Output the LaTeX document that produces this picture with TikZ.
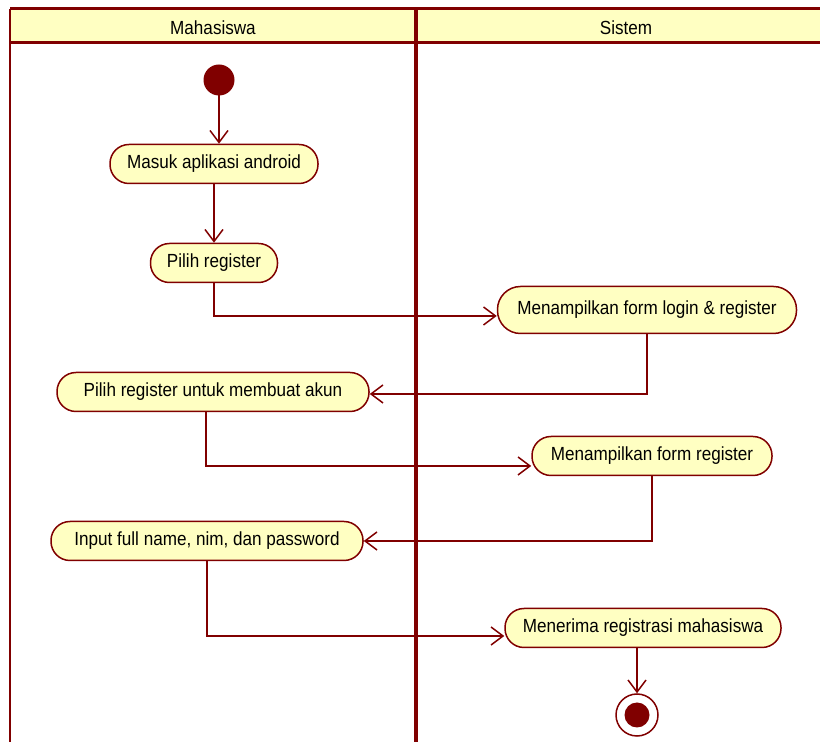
\documentclass[tikz,border=0pt]{standalone}
\usepackage{fontspec}
\setmainfont{Liberation Sans}[FakeStretch=0.9]
\usepackage{tikz}
\usetikzlibrary{arrows.meta,positioning}
\definecolor{umlred}{RGB}{128,0,0}
\definecolor{umlyellow}{RGB}{255,255,194}
\tikzset{
  action/.style={rectangle, rounded corners=9.5pt, draw=umlred, fill=umlyellow, line width=0.75pt,
    minimum height=19.5pt, inner xsep=6pt, font=\fontsize{9.5}{11}\selectfont},
  flow/.style={draw=umlred, line width=0.75pt, -{Straight Barb[length=6pt,width=9pt]}},
  laneline/.style={draw=umlred, line width=2pt},
}

\begin{document}
\begin{tikzpicture}[x=0.5pt,y=-0.5pt]
    \useasboundingbox (0,0) rectangle (820,742);
    \clip (0,0) rectangle (820,742);

    % swimlanes
    \fill[umlyellow] (10,9) rectangle (836,43);
    \draw[umlred, line width=1pt] (10,9) -- (10,760);
    \draw[umlred, line width=1.5pt] (10,9) -- (836,9);
    \draw[umlred, line width=1.5pt] (10,43) -- (836,43);
    \draw[laneline] (416,9) -- (416,760);
    \node[font=\fontsize{9.5}{11}\selectfont] at (213,28) (mhs) {Mahasiswa};
    \node[font=\fontsize{9.5}{11}\selectfont] at (626,28) (sis) {Sistem};

    % actions
    \fill[umlred] (219,80) circle (7.75pt);
    \coordinate (start) at (219,80);
    \node[action, minimum width=104pt] at (214,164) (masuk) {Masuk aplikasi android};
    \node[action, minimum width=63.5pt] at (214,263) (pilih) {Pilih register};
    \node[action, minimum width=149.5pt, minimum height=23.5pt, rounded corners=11.5pt] at (647,310) (login) {Menampilkan form login \& register};
    \node[action, minimum width=156pt] at (213,392) (akun) {Pilih register untuk membuat akun};
    \node[action, minimum width=120pt] at (652,456) (formreg) {Menampilkan form register};
    \node[action, minimum width=156pt] at (207,541) (input) {Input full name, nim, dan password};
    \node[action, minimum width=138pt] at (643,628) (terima) {Menerima registrasi mahasiswa};
    \node[circle, draw=umlred, fill=white, line width=0.75pt, minimum size=21pt] at (637,715) (stop) {};
    \fill[umlred] (stop) circle (6.25pt);

    % flows
    \draw[flow] ([yshift=-7.75pt]start) -- (start |- masuk.north);
    \draw[flow] (masuk) -- (pilih);
    \draw[flow] (pilih.south) |- ([yshift=-3pt]login.west);
    \draw[flow] (login.south) |- ([yshift=-1pt]akun.east);
    \draw[flow] ([xshift=-3.5pt]akun.south) |- ([yshift=-5pt]formreg.west);
    \draw[flow] (formreg.south) |- (input.east);
    \draw[flow] (input.south) |- ([yshift=-4pt]terima.west);
    \draw[flow] (stop |- terima.south) -- (stop.north);
\end{tikzpicture}
\end{document}
